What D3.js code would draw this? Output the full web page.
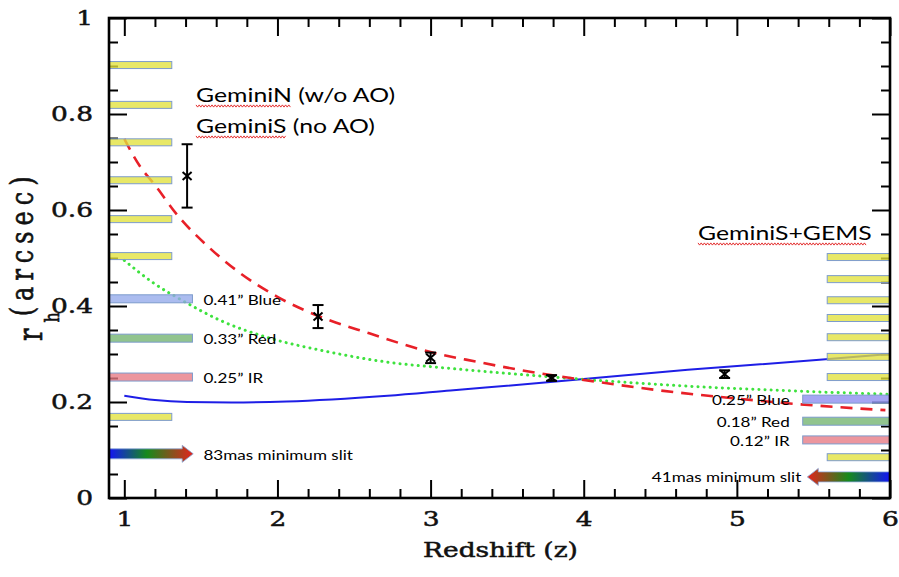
<!DOCTYPE html>
<html><head><meta charset="utf-8">
<script src="https://cdn.jsdelivr.net/npm/d3@7"></script>
<style>html,body{margin:0;padding:0;background:#fff;} svg{display:block;}</style>
</head><body><svg id="c" width="899" height="577"></svg>
<script>
// ---------- data ----------
const xMajorTicks = [1, 2, 3, 4, 5, 6];
const yMajorTicks = [0, 0.2, 0.4, 0.6, 0.8, 1];

// model curves (redshift z, r_h arcsec)
const redZ  = [1.0, 1.1, 1.2, 1.35, 1.55, 1.75, 2.0, 2.3, 2.6, 3.0, 3.3, 3.65, 4.0, 4.5, 5.0, 5.5, 5.97];
const redRh = [0.748, 0.692, 0.652, 0.588, 0.523, 0.470, 0.419, 0.375, 0.343, 0.304, 0.284, 0.263, 0.246, 0.224, 0.207, 0.193, 0.183];
const greenZ  = [1.0, 1.19, 1.41, 1.62, 1.95, 2.28, 2.72, 3.13, 3.8, 4.68, 5.54, 6.0];
const greenRh = [0.495, 0.448, 0.406, 0.371, 0.333, 0.308, 0.283, 0.270, 0.252, 0.233, 0.221, 0.216];
const blueZ  = [1.0, 1.2, 1.41, 1.7, 2.06, 2.72, 3.13, 3.8, 4.68, 5.54, 6.0];
const blueRh = [0.213, 0.204, 0.200, 0.199, 0.201, 0.213, 0.224, 0.242, 0.267, 0.288, 0.300];

// measurements with error bars
const obsZ   = [1.41, 2.265, 3.0, 3.79, 4.92];
const obsRh  = [0.671, 0.378, 0.292, 0.250, 0.258];
const obsErr = [0.066, 0.024, 0.011, 0.006, 0.008];

// GeminiN / GeminiS (no AO) slit widths
const geminiSlitRh = [0.902, 0.819, 0.741, 0.662, 0.581, 0.504, 0.169];
const geminiFilterRh = [0.415, 0.333, 0.252];
const geminiFilterLabels = ["0.41\u201D Blue", "0.33\u201D Red", "0.25\u201D IR"];
const geminiMinSlitRh = 0.092;
const geminiMinSlitLabel = "83mas minimum slit";

// GeminiS + GEMS slit widths
const gemsSlitRh = [0.502, 0.456, 0.412, 0.375, 0.335, 0.294, 0.252, 0.085];
const gemsFilterRh = [0.206, 0.160, 0.121];
const gemsFilterLabels = ["0.25\u201D Blue", "0.18\u201D Red", "0.12\u201D IR"];
const gemsMinSlitRh = 0.044;
const gemsMinSlitLabel = "41mas minimum slit";

const titleLeft = ["GeminiN (w/o AO)", "GeminiS (no AO)"];
const titleRight = "GeminiS+GEMS";
const xLabel = "Redshift (z)";

// ---------- drawing ----------
const svg = d3.select("#c");
const x = d3.scaleLinear().domain([0.9, 6]).range([109, 890]);
const y = d3.scaleLinear().domain([0, 1]).range([498, 18]);
const SX = 1.29;           // horizontal stretch of the original raster
const serif = "'DejaVu Serif', serif";
const sans = "Lato, 'Open Sans', sans-serif";

// gradients
const defs = svg.append("defs");
const gl = defs.append("linearGradient").attr("id", "gradL").attr("x1", "0").attr("x2", "1").attr("y1", "0").attr("y2", "0");
gl.append("stop").attr("offset", "0").attr("stop-color", "#1414f5");
gl.append("stop").attr("offset", "0.45").attr("stop-color", "#168a1c");
gl.append("stop").attr("offset", "1").attr("stop-color", "#e4231e");
const gr = defs.append("linearGradient").attr("id", "gradR").attr("x1", "0").attr("x2", "1").attr("y1", "0").attr("y2", "0");
gr.append("stop").attr("offset", "0").attr("stop-color", "#e4231e");
gr.append("stop").attr("offset", "0.5").attr("stop-color", "#168a1c");
gr.append("stop").attr("offset", "1").attr("stop-color", "#1414f5");

// axes ticks
function clean(g) { g.select(".domain").remove(); g.selectAll("line").attr("stroke", "#000").attr("stroke-width", 2); }
const xMinor = x.ticks(26).filter(v => v >= 1 && !xMajorTicks.some(m => Math.abs(m - v) < 1e-6));
const yMinor = y.ticks(20).filter(v => !yMajorTicks.some(m => Math.abs(m - v) < 1e-6));

function serifText(sel, size) {
  sel.attr("font-family", serif).attr("font-size", size).attr("fill", "#111")
    .attr("stroke", "#111").attr("stroke-width", 0.5);
}

const gBottom = svg.append("g").attr("transform", `translate(0,${y(0)})`)
  .call(d3.axisBottom(x).tickValues(xMajorTicks).tickSize(-18).tickPadding(13).tickFormat(d3.format("d")));
clean(gBottom);
gBottom.selectAll("text").call(serifText, 20.5).attr("transform", `scale(${SX},1)`);
svg.append("g").attr("transform", `translate(0,${y(0)})`)
  .call(d3.axisBottom(x).tickValues(xMinor).tickSize(-9).tickFormat("")).call(clean);
svg.append("g").attr("transform", `translate(0,${y(1)})`)
  .call(d3.axisTop(x).tickValues(xMajorTicks).tickSize(-18).tickFormat("")).call(clean);
svg.append("g").attr("transform", `translate(0,${y(1)})`)
  .call(d3.axisTop(x).tickValues(xMinor).tickSize(-9).tickFormat("")).call(clean);

const gLeft = svg.append("g").attr("transform", `translate(${x(0.9)},0)`)
  .call(d3.axisLeft(y).tickValues(yMajorTicks).tickSize(-18).tickPadding(16).tickFormat(d => d === 0 ? "0" : d === 1 ? "1" : d3.format(".1f")(d)));
clean(gLeft);
gLeft.selectAll("text").call(serifText, 20.5).attr("x", -16 / SX).attr("transform", `scale(${SX},1)`);
svg.append("g").attr("transform", `translate(${x(0.9)},0)`)
  .call(d3.axisLeft(y).tickValues(yMinor).tickSize(-9).tickFormat("")).call(clean);
svg.append("g").attr("transform", `translate(${x(6)},0)`)
  .call(d3.axisRight(y).tickValues(yMajorTicks).tickSize(-18).tickFormat("")).call(clean);
svg.append("g").attr("transform", `translate(${x(6)},0)`)
  .call(d3.axisRight(y).tickValues(yMinor).tickSize(-9).tickFormat("")).call(clean);

// curves
const line = d3.line().curve(d3.curveMonotoneX);
svg.append("path").attr("d", line(blueZ.map((z, i) => [x(z), y(blueRh[i])])))
  .attr("fill", "none").attr("stroke", "#1e1ee6").attr("stroke-width", 2);
svg.append("path").attr("d", line(greenZ.map((z, i) => [x(z), y(greenRh[i])])))
  .attr("fill", "none").attr("stroke", "#3ee23e").attr("stroke-width", 3)
  .attr("stroke-linecap", "round").attr("stroke-dasharray", "0.1,6");
svg.append("path").attr("d", line(redZ.map((z, i) => [x(z), y(redRh[i])])))
  .attr("fill", "none").attr("stroke", "#e82028").attr("stroke-width", 2.6)
  .attr("stroke-dasharray", "12,8");

// bars
const barStroke = "#7d9ccc";
function bar(z0, z1, v, fill, h) {
  svg.append("rect").attr("x", x(z0)).attr("y", y(v) - h / 2).attr("width", x(z1) - x(z0)).attr("height", h)
    .attr("fill", fill).attr("fill-opacity", 0.78).attr("stroke", barStroke).attr("stroke-width", 1);
}
const leftColors = ["#93a9ea", "#72b46e", "#e77883"];
const rightColors = ["#8c8cf0", "#72b46e", "#e77883"];
geminiSlitRh.forEach(v => bar(0.9, 1.31, v, "#e2e23c", 7));
geminiFilterRh.forEach((v, i) => bar(0.9, 1.445, v, leftColors[i], 8));
gemsSlitRh.forEach(v => bar(5.59, 6, v, "#e2e23c", 7));
gemsFilterRh.forEach((v, i) => bar(5.43, 6, v, rightColors[i], 8));

// gradient arrows
function arrow(zTail, zTip, v, fillId) {
  const xt = x(zTail), xp = x(zTip), cy = y(v);
  const dir = Math.sign(xp - xt);
  const xh = xp - dir * 11;
  const pts = [[xt, cy - 5], [xh, cy - 5], [xh, cy - 8.5], [xp, cy], [xh, cy + 8.5], [xh, cy + 5], [xt, cy + 5]];
  svg.append("path").attr("d", d3.line()(pts) + "Z").attr("fill", `url(#${fillId})`)
    .attr("stroke", "#8aa6d6").attr("stroke-width", 0.8);
}
arrow(0.9, 1.45, geminiMinSlitRh, "gradL");
arrow(6, 5.46, gemsMinSlitRh, "gradR");

// labels
function label(tx, ty, str, size, anchor, sx) {
  svg.append("text").attr("transform", `translate(${tx},${ty}) scale(${sx},1)`)
    .attr("font-family", sans).attr("font-size", size).attr("fill", "#000")
    .attr("text-anchor", anchor || "start").text(str);
}
geminiFilterRh.forEach((v, i) => label(x(1.445) + 11, y(v) + 6, geminiFilterLabels[i], 14, "start", 1.22));
label(x(1.445) + 11, y(geminiMinSlitRh) + 6, geminiMinSlitLabel, 14, "start", 1.22);
gemsFilterRh.forEach((v, i) => label(x(5.43) - 13, y(v) + 6, gemsFilterLabels[i], 14, "end", 1.22));
label(x(5.46) - 6, y(gemsMinSlitRh) + 5, gemsMinSlitLabel, 14, "end", 1.22);

function wavy(x0, x1, yy) {
  const pts = [];
  for (let xx = x0, k = 0; xx <= x1; xx += 1.6, k++) pts.push([xx, yy + (k % 2 ? 1.1 : -1.1)]);
  svg.append("path").attr("d", d3.line()(pts)).attr("fill", "none").attr("stroke", "#e01b1b").attr("stroke-width", 0.9);
}
label(196, 102, titleLeft[0], 20, "start", 1.24);
label(196, 133, titleLeft[1], 20, "start", 1.24);
label(698, 240, titleRight, 20, "start", 1.24);
wavy(196, 291, 106);
wavy(196, 286, 137);
wavy(698, 867, 244);

// error bars
obsZ.forEach((z, i) => {
  const cx = x(z), yt = y(obsRh[i] + obsErr[i]), yb = y(obsRh[i] - obsErr[i]), yc = y(obsRh[i]);
  const g = svg.append("g").attr("stroke", "#000").attr("stroke-width", 2);
  g.append("line").attr("x1", cx).attr("x2", cx).attr("y1", yt).attr("y2", yb);
  g.append("line").attr("x1", cx - 5.5).attr("x2", cx + 5.5).attr("y1", yt).attr("y2", yt);
  g.append("line").attr("x1", cx - 5.5).attr("x2", cx + 5.5).attr("y1", yb).attr("y2", yb);
  const s = Math.min(4, yb - yc);
  g.append("line").attr("x1", cx - 4.5).attr("x2", cx + 4.5).attr("y1", yc - s).attr("y2", yc + s);
  g.append("line").attr("x1", cx - 4.5).attr("x2", cx + 4.5).attr("y1", yc + s).attr("y2", yc - s);
});

// frame
svg.append("rect").attr("x", x(0.9)).attr("y", y(1)).attr("width", x(6) - x(0.9)).attr("height", y(0) - y(1))
  .attr("fill", "none").attr("stroke", "#000").attr("stroke-width", 2.6);

// axis titles
svg.append("text").attr("transform", `translate(${(x(0.9) + x(6)) / 2 + 1},557) scale(${SX},1)`)
  .call(serifText, 20.5).attr("text-anchor", "middle").text(xLabel);
const yl = svg.append("text").attr("transform", `translate(33,341) scale(${SX},1) rotate(-90)`)
  .call(serifText, 24).attr("letter-spacing", 6);
yl.append("tspan").attr("font-size", 26).attr("dy", 7).text("r");
yl.append("tspan").attr("font-size", 16).attr("dy", 13).text("h");
yl.append("tspan").attr("font-size", 24).attr("dy", -20).attr("dx", -10).text("(arcsec)");
</script></body></html>
